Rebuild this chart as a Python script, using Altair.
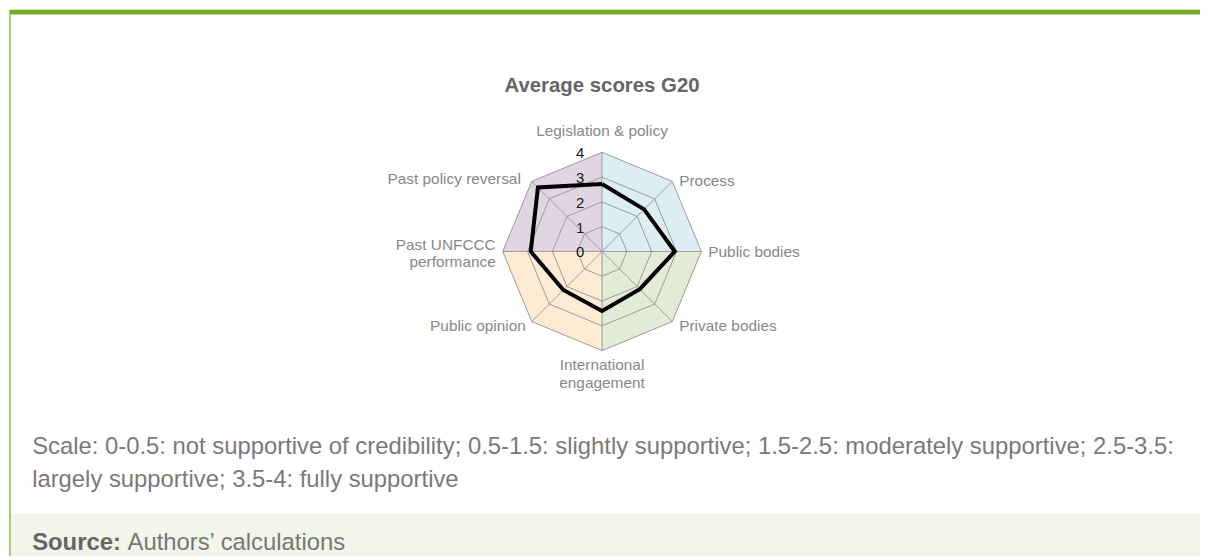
import math
import altair as alt
import pandas as pd

# ---------------- data ----------------
categories = [
    "Legislation & policy",
    "Process",
    "Public bodies",
    "Private bodies",
    "International engagement",
    "Public opinion",
    "Past UNFCCC performance",
    "Past policy reversal",
]
label_text = [
    "Legislation & policy",
    "Process",
    "Public bodies",
    "Private bodies",
    "International\nengagement",
    "Public opinion",
    "Past UNFCCC\nperformance",
    "Past policy reversal",
]
scores = [2.72, 2.40, 2.93, 2.15, 2.40, 2.20, 2.87, 3.65]
levels = [1, 2, 3, 4]
tick_values = [0, 1, 2, 3, 4]
max_value = 4

quadrants = ["q1", "q2", "q3", "q4"]
quadrant_colors = ["#ddeef3", "#e3ead5", "#fdebd4", "#e1d5e3"]

title_text = "Average scores G20"
caption_line1 = ("Scale: 0-0.5: not supportive of credibility; 0.5-1.5: slightly supportive; "
                 "1.5-2.5: moderately supportive; 2.5-3.5:")
caption_line2 = "largely supportive; 3.5-4: fully supportive"
source_label = "Source:"
source_text = "Authors\u2019 calculations"

# ---------------- layout ----------------
W, H = 1200, 550
CX, CY = 598.0, 243.7      # centre of the radar in chart pixels
PX = 25.0                  # pixels per score unit
XDOM = [-CX / PX, (W - CX) / PX]
YDOM = [-(H - CY) / PX, CY / PX]

n = len(categories)
angles = [2 * math.pi * i / n for i in range(n)]


def pos(r, a):
    return r * math.sin(a), r * math.cos(a)


# radar polygon
rows = []
for i, (c, s) in enumerate(zip(categories, scores)):
    x, y = pos(s, angles[i])
    rows.append({"cat": c, "x": x, "y": y, "o": i})
x, y = pos(scores[0], angles[0])
rows.append({"cat": categories[0], "x": x, "y": y, "o": n})
df_line = pd.DataFrame(rows)

# rings
ring_rows = []
for lv in levels:
    for i in range(n + 1):
        x, y = pos(lv, angles[i % n])
        ring_rows.append({"lv": lv, "x": x, "y": y, "o": i})
df_rings = pd.DataFrame(ring_rows)

# spokes
df_spokes = pd.DataFrame([
    {"cat": c, "x0": 0.0, "y0": 0.0, "x": pos(max_value, angles[i])[0], "y": pos(max_value, angles[i])[1]}
    for i, c in enumerate(categories)
])

# quadrant backgrounds
quad_rows = []
for q in range(4):
    for k in range(3):
        idx = (2 * q + k) % n
        x, y = pos(max_value, angles[idx])
        quad_rows.append({"q": quadrants[q], "x": round(x, 6), "y": round(y, 6), "y2": 0.0})
df_quads = pd.DataFrame(quad_rows)

# tick labels
df_ticks = pd.DataFrame({"v": tick_values, "x": [0.0] * len(tick_values), "y": tick_values})

# axis labels
df_labels = pd.DataFrame([
    {"cat": c, "lab": l, "x": pos(max_value, angles[i])[0], "y": pos(max_value, angles[i])[1]}
    for i, (c, l) in enumerate(zip(categories, label_text))
])

one = pd.DataFrame({"k": [0]})

xs = alt.Scale(domain=XDOM, nice=False, zero=False)
ys = alt.Scale(domain=YDOM, nice=False, zero=False)
X = lambda f="x": alt.X(f"{f}:Q", scale=xs, axis=None)
Y = lambda f="y": alt.Y(f"{f}:Q", scale=ys, axis=None)

FONT = "Liberation Sans"
GRID = "#9a9a9a"

header = alt.Chart(one).mark_rect(color="#76a924").encode(
    x=alt.value(1.5), x2=alt.value(W), y=alt.value(0), y2=alt.value(4.7))
source_bg = alt.Chart(one).mark_rect(color="#f1f5ea").encode(
    x=alt.value(2.7), x2=alt.value(W), y=alt.value(507), y2=alt.value(H))
border = alt.Chart(one).mark_rule(color="#84b63a", strokeWidth=1.4).encode(
    x=alt.value(2), y=alt.value(4.7), y2=alt.value(H))

quads = alt.Chart(df_quads).mark_area(orient="vertical", opacity=1, interpolate="linear").encode(
    x=X(), y=Y(), y2="y2:Q",
    color=alt.Color("q:N", scale=alt.Scale(domain=quadrants, range=quadrant_colors), legend=None),
)

rings = alt.Chart(df_rings).mark_line(color=GRID, strokeWidth=1).encode(
    x=X(), y=Y(), detail="lv:N", order="o:Q")

spokes = alt.Chart(df_spokes).mark_rule(color=GRID, strokeWidth=1).encode(
    x=X("x0"), y=Y("y0"), x2="x:Q", y2="y:Q")

line = alt.Chart(df_line).mark_line(color="#000000", strokeWidth=4, strokeJoin="miter").encode(
    x=X(), y=Y(), order="o:Q")

ticks = alt.Chart(df_ticks).mark_text(
    font=FONT, fontSize=15, color="#1a1a1a", align="center", baseline="middle", dx=-22, dy=1
).encode(x=X(), y=Y(), text="v:N")

label_style = {
    "Legislation & policy": dict(align="center", dx=0, dy=-21),
    "Process": dict(align="left", dx=7, dy=0),
    "Public bodies": dict(align="left", dx=7, dy=1),
    "Private bodies": dict(align="left", dx=7, dy=4),
    "International engagement": dict(align="center", dx=0, dy=15),
    "Public opinion": dict(align="right", dx=-6, dy=4),
    "Past UNFCCC performance": dict(align="right", dx=-7, dy=-6.7),
    "Past policy reversal": dict(align="right", dx=-11, dy=-2),
}
label_layers = []
for c in categories:
    st = label_style[c]
    label_layers.append(
        alt.Chart(df_labels).transform_filter(alt.datum.cat == c).mark_text(
            font=FONT, fontSize=15.5, color="#888888", baseline="middle",
            lineBreak="\n", lineHeight=17.7, **st
        ).encode(x=X(), y=Y(), text="lab:N")
    )

title = alt.Chart(one).mark_text(
    font=FONT, fontSize=20.5, fontWeight="bold", color="#666666", align="center", baseline="middle"
).encode(x=alt.value(CX), y=alt.value(77), text=alt.value(title_text))

CAP_FS = 24
cap1 = alt.Chart(one).mark_text(
    font=FONT, fontSize=CAP_FS, color="#7a7a7a", align="left", baseline="alphabetic"
).encode(x=alt.value(24.3), y=alt.value(447), text=alt.value(caption_line1))
cap2 = alt.Chart(one).mark_text(
    font=FONT, fontSize=CAP_FS, color="#7a7a7a", align="left", baseline="alphabetic"
).encode(x=alt.value(24.3), y=alt.value(480.3), text=alt.value(caption_line2))

src1 = alt.Chart(one).mark_text(
    font=FONT, fontSize=CAP_FS, fontWeight="bold", color="#666666", align="left", baseline="alphabetic"
).encode(x=alt.value(24.3), y=alt.value(543.7), text=alt.value(source_label))
src2 = alt.Chart(one).mark_text(
    font=FONT, fontSize=CAP_FS, color="#777777", align="left", baseline="alphabetic"
).encode(x=alt.value(120.3), y=alt.value(543.7), text=alt.value(source_text))

chart = alt.layer(
    header, source_bg, border, quads, rings, spokes, line, ticks, *label_layers,
    title, cap1, cap2, src1, src2
).properties(
    width=W, height=H, padding=0,
    autosize=alt.AutoSizeParams(type="fit", contains="padding"),
).configure_view(stroke=None)

chart.save("out.html", embed_options={"renderer": "svg", "actions": False})
